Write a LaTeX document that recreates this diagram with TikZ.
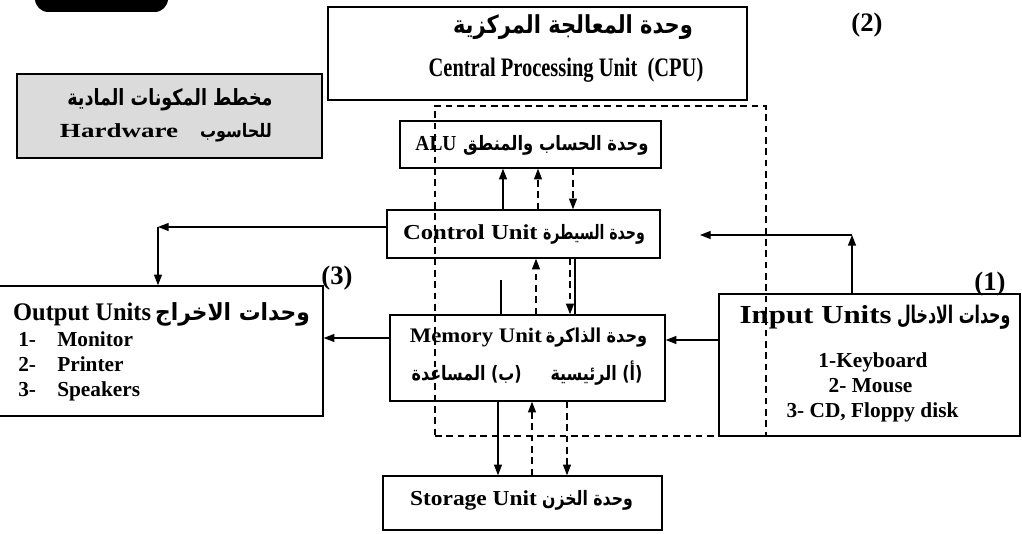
\documentclass[tikz,border=0pt]{standalone}
\usepackage{fontspec}
\setmainfont{Liberation Serif}
\newfontfamily\arfont[Script=Arabic,Scale=0.93]{DejaVu Sans}
\usetikzlibrary{arrows.meta,fit}
\TeXXeTstate=1
\newcommand\AR[1]{{\arfont\bfseries\beginR #1\endR}}
\newcommand\fitw[2]{\resizebox{#1}{\height}{#2}}
\newcommand\fsz[1]{\fontsize{#1}{#1}\selectfont}
\tikzset{
  box/.style={draw, line width=1.1pt, inner sep=0pt},
  area/.style={draw, line width=0.9pt, dash pattern=on 5pt off 3.5pt, inner sep=0pt},
  txt/.style={inner sep=0pt, font=\bfseries},
  arr/.style={line width=1pt, -{Triangle[length=8pt,width=6pt]}},
  darr/.style={arr, dash pattern=on 5pt off 3.5pt},
  ln/.style={line width=1pt}
}
\begin{document}
\begin{tikzpicture}[x=0.75pt,y=-0.75pt]
\useasboundingbox (0,0) rectangle (1022,534);
\fill[white] (0,0) rectangle (1022,534);
\clip (0,0) rectangle (1022,534);
% dark shape at top left
\fill[black, rounded corners=10pt] (35,-30) rectangle (168,12);

% boxes
\node[box, fit={(328,7) (747,100)}] (cpu) {};
\node[box, fill=gray!28, fit={(17,74) (322,158)}] (hw) {};
\node[area, fit={(435,106) (766,436)}] (cpuarea) {};
\node[box, fit={(400,121) (661,168)}] (alu) {};
\node[box, fit={(387,210) (660,258)}] (cu) {};
\node[box, fit={(390,315) (665,401)}] (mem) {};
\node[box, fit={(383,476) (662,530)}] (sto) {};
\node[box, fit={(-5,286) (323,416)}] (out) {};
\node[box, fit={(719,294) (1020,436)}] (inp) {};

% texts
\node[txt] (cpuar) at (573,27) {\fsz{20pt}\fitw{180pt}{\AR{وحدة المعالجة المركزية}}};
\node[txt] (cpuen) at (566,70) {\fsz{20pt}\fitw{206pt}{Central Processing Unit\ \ (CPU)}};
\node[txt] (hw1) at (170,100) {\fsz{18pt}\fitw{154pt}{\AR{مخطط المكونات المادية}}};
\node[txt] (hw2) at (166,133) {\fsz{15pt}\fitw{88.5pt}{Hardware}\hspace{16.5pt}\fitw{54pt}{\AR{للحاسوب}}};
\node[txt] (alut) at (532,145) {\fsz{16pt}\fitw{30.75pt}{ALU}\hspace{5pt}\fitw{139pt}{\AR{وحدة الحساب والمنطق}}};
\node[txt] (cut) at (524,234) {\fsz{16pt}\fitw{101pt}{Control Unit}\hspace{4pt}\fitw{76.5pt}{\AR{وحدة السيطرة}}};
\node[txt] (memt) at (528.5,338) {\fsz{15.5pt}\fitw{99pt}{Memory Unit}\hspace{3pt}\fitw{76pt}{\AR{وحدة الذاكرة}}};
\node[txt] (memt2) at (527,373) {\fsz{16pt}\fitw{173pt}{\AR{(أ) الرئيسية\hspace{27pt}(ب) المساعدة}}};
\node[txt] (stot) at (521.5,500) {\fsz{16pt}\fitw{95pt}{Storage Unit}\hspace{4pt}\fitw{68pt}{\AR{وحدة الخزن}}};
\node[txt] (outt) at (161.5,314) {\fsz{19pt}\fitw{103.5pt}{Output Units}\hspace{3pt}\fitw{116pt}{\AR{وحدات الاخراج}}};
\node[txt] (inpt) at (875,317) {\fsz{19.5pt}\fitw{114pt}{Input Units}\hspace{4pt}\fitw{85pt}{\AR{وحدات الادخال}}};

\node[txt, anchor=base west] (o1) at (18,347) {\fsz{16pt}\makebox[29.25pt][l]{1-}Monitor};
\node[txt, anchor=base west] (o2) at (18,372) {\fsz{16pt}\makebox[29.25pt][l]{2-}Printer};
\node[txt, anchor=base west] (o3) at (18,397) {\fsz{16pt}\makebox[29.25pt][l]{3-}Speakers};
\node[txt, anchor=base] (i1) at (873,368) {\fsz{16pt}1-Keyboard};
\node[txt, anchor=base] (i2) at (870.5,393) {\fsz{16pt}2- Mouse};
\node[txt, anchor=base] (i3) at (872.5,418) {\fsz{16pt}3- CD, Floppy disk};

\node[txt] (n1) at (990,284) {\fsz{20pt}(1)};
\node[txt] (n2) at (867,25) {\fsz{20pt}(2)};
\node[txt] (n3) at (337,278) {\fsz{20pt}(3)};

% connector x positions
\coordinate (xa1) at (503,0);
\coordinate (xa2) at (538,0);
\coordinate (xa3) at (573,0);
\coordinate (b1) at (501,280);
\coordinate (xb2) at (536,0);
\coordinate (xb3) at (570,0);
\coordinate (xb4) at (575,0);
\coordinate (xc1) at (498,0);
\coordinate (xc2) at (532,0);
\coordinate (xc3) at (567,0);
\coordinate (k1) at (158,227);
\coordinate (ym) at (0,338);
\coordinate (yi) at (0,340);
\coordinate (k2) at (852,235);
\coordinate (k3) at (700,235);

% ALU <-> CU
\draw[arr] (cu.north -| xa1) -- (alu.south -| xa1);
\draw[darr] (cu.north -| xa2) -- (alu.south -| xa2);
\draw[darr] (alu.south -| xa3) -- (cu.north -| xa3);
% CU <-> Memory
\draw[ln] (mem.north -| b1) -- (b1);
\draw[darr] (mem.north -| xb2) -- (cu.south -| xb2);
\draw[darr] (cu.south -| xb3) -- (mem.north -| xb3);
\draw[ln] (cu.south -| xb4) -- (mem.north -| xb4);
% Memory <-> Storage
\draw[arr] (mem.south -| xc1) -- (sto.north -| xc1);
\draw[darr] (sto.north -| xc2) -- (mem.south -| xc2);
\draw[darr] (mem.south -| xc3) -- (sto.north -| xc3);
% CU -> Output
\draw[arr] (cu.west |- k1) -- (k1);
\draw[arr] (k1) -- (out.north -| k1);
% Memory -> Output
\draw[arr] (mem.west |- ym) -- (out.east |- ym);
% Input -> Memory
\draw[arr] (inp.west |- yi) -- (mem.east |- yi);
% Input -> CU
\draw[arr] (inp.north -| k2) -- (k2);
\draw[arr] (k2) -- (k3);
\end{tikzpicture}
\end{document}
